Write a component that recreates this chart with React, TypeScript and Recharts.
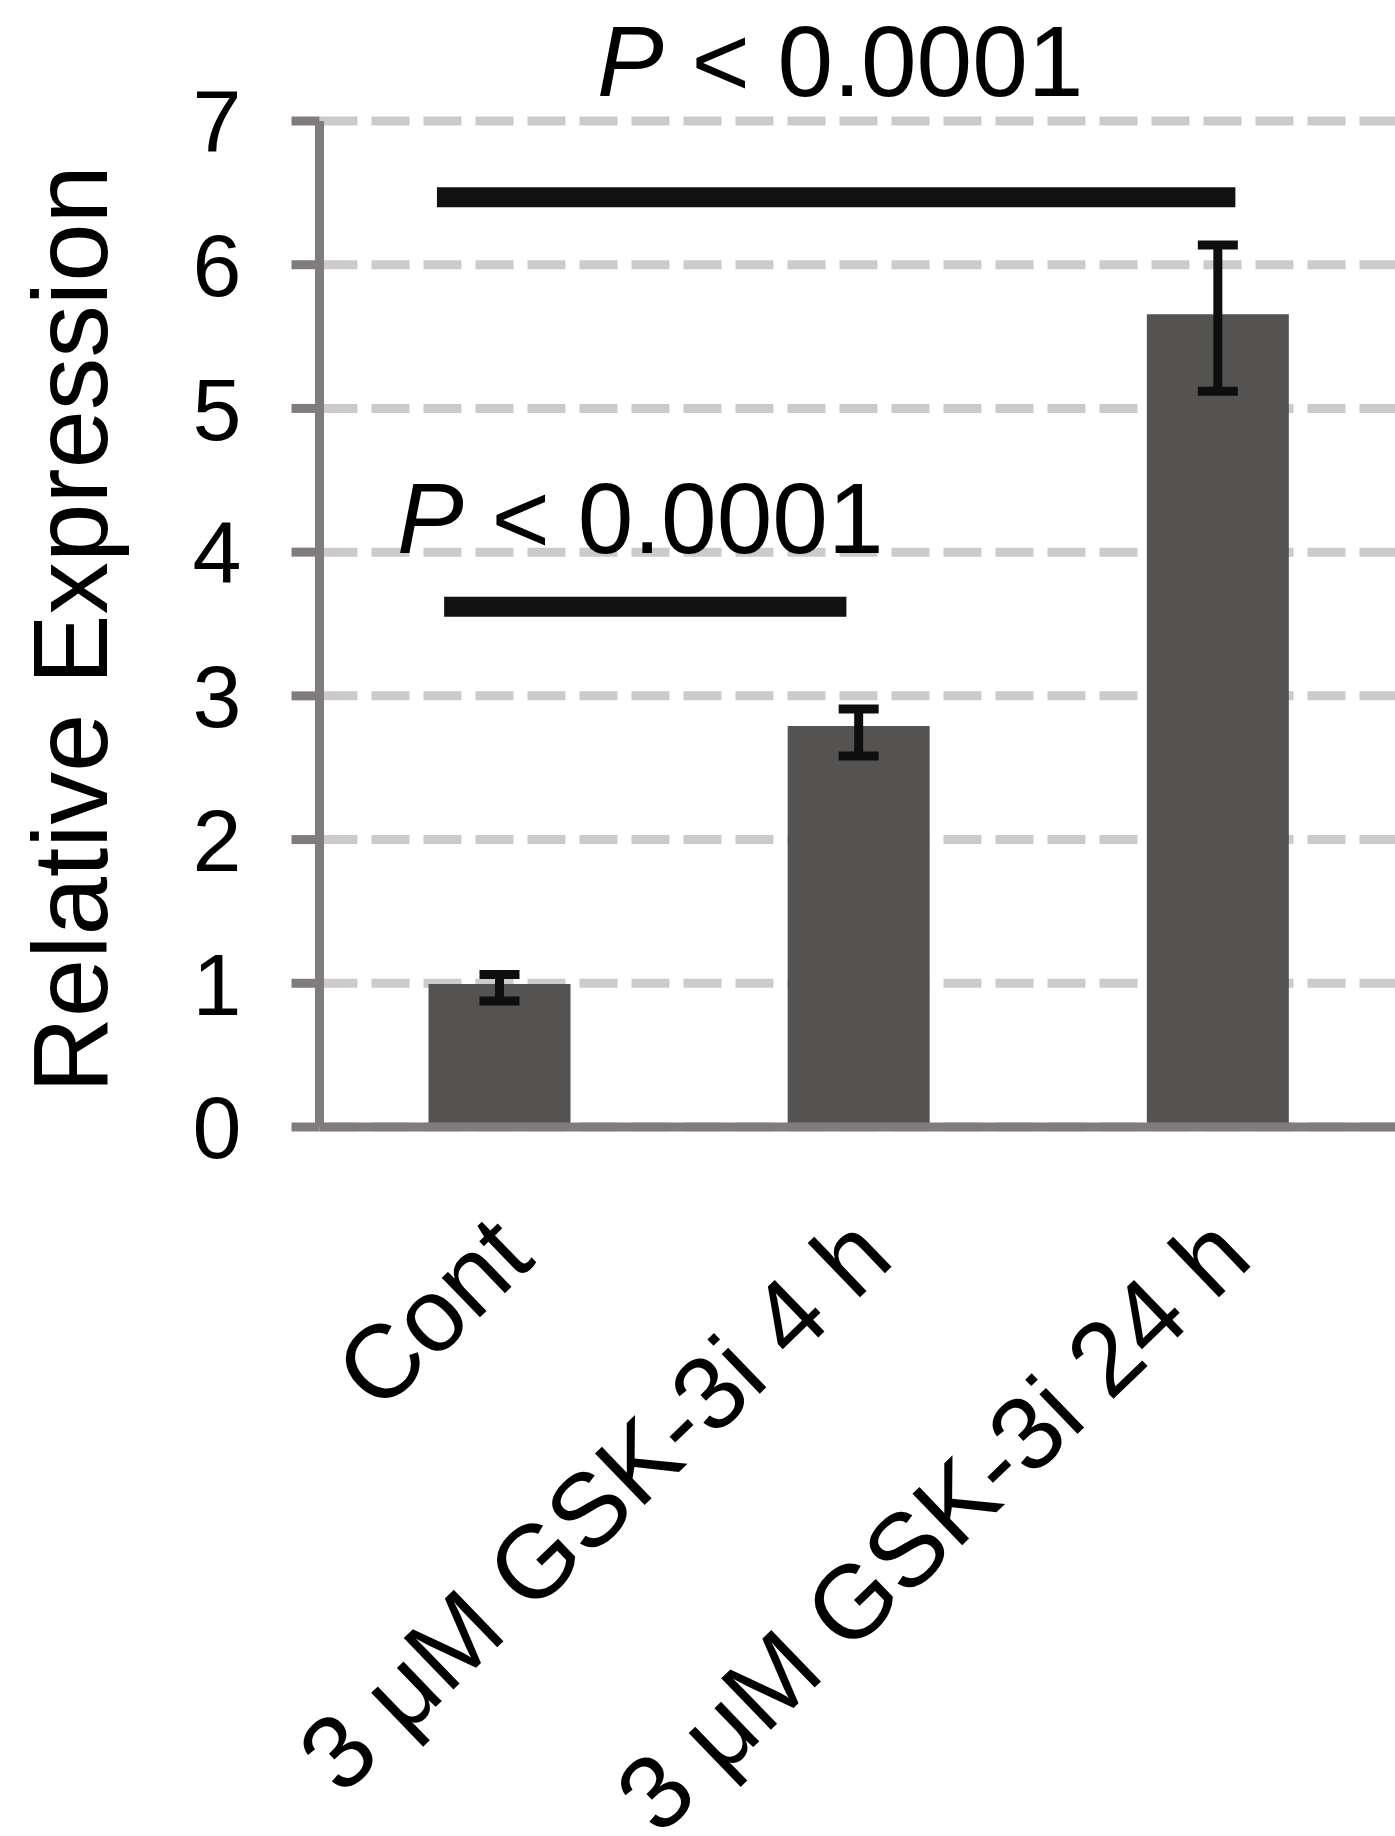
import React from 'react';
import { BarChart, Bar, XAxis, YAxis, CartesianGrid, ErrorBar, ReferenceLine } from 'recharts';

// ---- data ----
const categories = ['Cont', '3 μM GSK-3i 4 h', '3 μM GSK-3i 24 h'];
const positions = [0, 1, 2];
const meanValues = [0.995, 2.79, 5.655];
const errorLow = [0.118, 0.209, 0.536];
const errorHigh = [0.066, 0.118, 0.482];
const yTicks = [0, 1, 2, 3, 4, 5, 6, 7];
const pLabels = ['< 0.0001', '< 0.0001'];
// brackets in data coordinates (x on a numeric axis where category i sits at i)
const bracketX1 = [-0.153, -0.173];
const bracketX2 = [0.967, 2.05];
const bracketY = [3.62, 6.47];

const data = categories.map((name, i) => ({
  name,
  pos: positions[i],
  value: meanValues[i],
  err: [errorLow[i], errorHigh[i]],
}));

const FONT = '"Liberation Sans", Arial, Helvetica, sans-serif';
const AXIS = '#807c7c';

const XTick = (props: any) => {
  const { x, y, payload } = props;
  return (
    <g transform={`translate(${x + 38},${y + 135})`}>
      <text transform="rotate(-44)" textAnchor="end" fontSize={104} fontFamily={FONT} fill="#000">
        {payload.value}
      </text>
    </g>
  );
};

const YLabel = (props: any) => {
  const vb = props.viewBox || { x: 0, y: 121, width: 319, height: 1006 };
  const cy = vb.y + vb.height / 2 + 5;
  return (
    <text
      transform={`translate(${vb.x + 107},${cy}) rotate(-90)`}
      textAnchor="middle"
      fontSize={105}
      fontFamily={FONT}
      fill="#000"
    >
      Relative Expression
    </text>
  );
};

const PLabel = (props: any) => {
  const { viewBox, text, dx, rise } = props;
  if (!viewBox) return null;
  const cx = viewBox.x + viewBox.width / 2 + dx;
  const y = viewBox.y - rise;
  return (
    <text x={cx} y={y} textAnchor="middle" fontSize={100} fontFamily={FONT} fill="#000">
      <tspan fontStyle="italic">P</tspan>
      {' ' + text}
    </text>
  );
};

const labelDx = [-5, 4];
const labelRise = [54, 101];

export default function App() {
  return (
    <div style={{ position: 'absolute', left: 0, top: 0, width: 1395, height: 1836, overflow: 'hidden', background: '#fff' }}>
      <BarChart
        width={1397}
        height={1836}
        data={data}
        margin={{ top: 121, right: 0, bottom: 0, left: 0 }}
      >
        <CartesianGrid
          vertical={false}
          stroke="#cccaca"
          strokeWidth={9}
          strokeDasharray="38 14"
        />
        <XAxis
          dataKey="name"
          interval={0}
          height={709}
          tickLine={false}
          tickSize={0}
          tickMargin={0}
          axisLine={{ stroke: AXIS, strokeWidth: 9 }}
          tick={<XTick />}
        />
        <XAxis
          xAxisId="num"
          dataKey="pos"
          type="number"
          domain={[-0.5, 2.5]}
          allowDataOverflow
          hide
        />
        <YAxis
          width={319.5}
          domain={[0, 7]}
          ticks={yTicks}
          interval={0}
          tickSize={28}
          tickMargin={50}
          axisLine={{ stroke: AXIS, strokeWidth: 9 }}
          tickLine={{ stroke: AXIS, strokeWidth: 9 }}
          tick={{ fontSize: 88, fill: '#000', fontFamily: FONT }}
          label={<YLabel />}
        />
        <Bar dataKey="value" fill="#545352" barSize={142} isAnimationActive={false}>
          <ErrorBar dataKey="err" width={20} strokeWidth={9} stroke="#0e0e0e" direction="y" />
        </Bar>
        {bracketY.map((yv, i) => (
          <ReferenceLine
            key={i}
            xAxisId="num"
            segment={[
              { x: bracketX1[i], y: yv },
              { x: bracketX2[i], y: yv },
            ]}
            stroke="#111"
            strokeWidth={20}
            ifOverflow="visible"
            label={<PLabel text={pLabels[i]} dx={labelDx[i]} rise={labelRise[i]} />}
          />
        ))}
      </BarChart>
    </div>
  );
}
